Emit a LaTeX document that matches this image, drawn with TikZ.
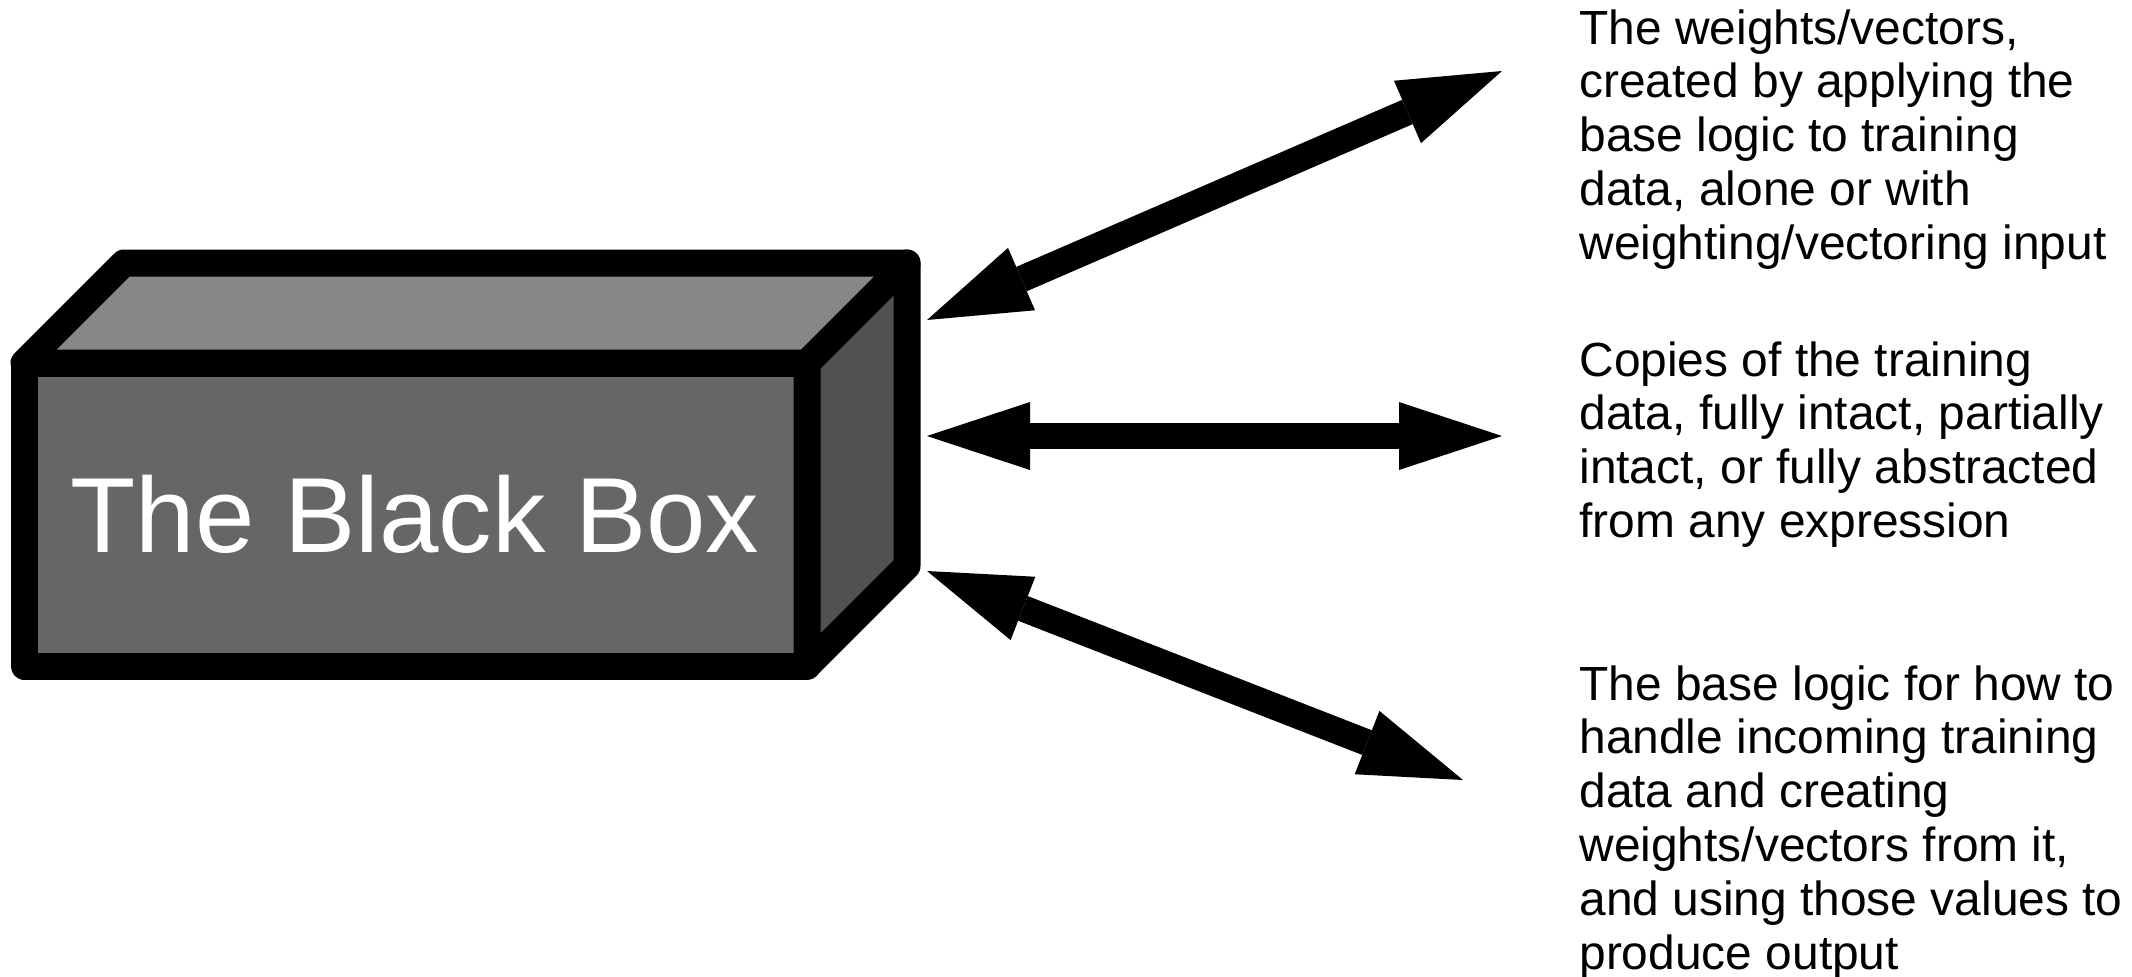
\documentclass[tikz,border=0pt]{standalone}
\usepackage{fontspec}
\setmainfont{Liberation Sans}
\usetikzlibrary{arrows.meta}
\definecolor{boxtop}{HTML}{888888}
\definecolor{boxfront}{HTML}{666666}
\definecolor{boxside}{HTML}{515151}
\tikzset{
  face/.style={draw=black, line width=13.5pt, line join=round},
  bigtip/.tip={Triangle[length=51.5pt, width=34pt, line width=0pt]},
  dblarrow/.style={line width=13.25pt, bigtip-bigtip},
  note/.style={anchor=base west, inner sep=0pt, font=\fontsize{23.95pt}{26.9pt}\selectfont},
  boxlabel/.style={anchor=base, inner sep=0pt, text=white, font=\fontsize{53.4pt}{60pt}\selectfont}
}
\begin{document}
\begin{tikzpicture}[x=0.5pt, y=-0.5pt]
\useasboundingbox (0,0) rectangle (2132,976);
\fill[white] (0,0) rectangle (2132,976);

% the box: front, top and right faces
\filldraw[face, fill=boxfront] (24,363) -- (807,363) -- (807,666) -- (24,666) -- cycle;
\filldraw[face, fill=boxtop] (24,363) -- (124,263) -- (907,263) -- (807,363) -- cycle;
\filldraw[face, fill=boxside] (807,363) -- (907,263) -- (907,566) -- (807,666) -- cycle;
\node[boxlabel] (box) at (415,552) {The Black Box};

% connector ends next to the box and towards the notes
\coordinate (b1) at (927,320);
\coordinate (b2) at (927,436);
\coordinate (b3) at (927,571);
\coordinate (e1) at (1502,71);
\coordinate (e2) at (1502,436);
\coordinate (e3) at (1463,780);

\draw[dblarrow] (b1) -- (e1);
\draw[dblarrow] (b2) -- (e2);
\draw[dblarrow] (b3) -- (e3);

% notes
\node[note] (weights) at (1579,44) {\parbox[t]{290pt}{\raggedright
  The weights/vectors,\\
  created by applying the\\
  base logic to training\\
  data, alone or with\\
  weighting/vectoring input}};
\node[note] (copies) at (1579,376) {\parbox[t]{290pt}{\raggedright
  Copies of the training\\
  data, fully intact, partially\\
  intact, or fully abstracted\\
  from any expression}};
\node[note] (logic) at (1579,700) {\parbox[t]{290pt}{\raggedright
  The base logic for how to\\
  handle incoming training\\
  data and creating\\
  weights/vectors from it,\\
  and using those values to\\
  produce output}};
\end{tikzpicture}
\end{document}
